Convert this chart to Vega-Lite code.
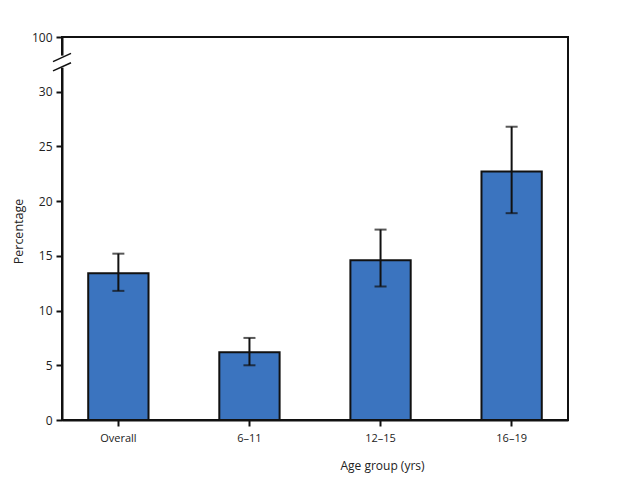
{
  "$schema": "https://vega.github.io/schema/vega-lite/v6.json",
  "width": 506,
  "height": 383,
  "autosize": "none",
  "padding": {"left": 62, "top": 37, "right": 58, "bottom": 65},
  "config": {
    "view": {"stroke": "#111", "strokeWidth": 2},
    "font": "Open Sans",
    "axis": {"labelColor": "#222", "titleColor": "#222", "domainColor": "#111", "tickColor": "#111", "labelFontWeight": "normal", "titleFontWeight": "normal"}
  },
  "datasets": {
    "bars": [
      {"group": "Overall", "pct": 13.4, "lo": 11.8, "hi": 15.2},
      {"group": "6–11", "pct": 6.2, "lo": 5.0, "hi": 7.5},
      {"group": "12–15", "pct": 14.6, "lo": 12.2, "hi": 17.4},
      {"group": "16–19", "pct": 22.7, "lo": 18.9, "hi": 26.8}
    ],
    "gap": [{"a": 32.2, "b": 33.3}],
    "brk": [{"a": 32.75, "b": 33.5}, {"a": 31.9, "b": 32.65}]
  },
  "layer": [
    {
      "data": {"name": "bars"},
      "mark": {"type": "bar", "fill": "#3b74bf", "stroke": "#111", "strokeWidth": 2},
      "encoding": {
        "x": {
          "field": "group", "type": "nominal", "sort": null,
          "scale": {"paddingInner": 0.54, "paddingOuter": 0.2},
          "axis": {"title": "Age group (yrs)", "labelAngle": 0, "labelFontSize": 11, "labelPadding": 6, "tickSize": 6, "tickWidth": 2, "domainWidth": 2, "titleFontSize": 12, "titlePadding": 17, "titleX": 320}
        },
        "y": {
          "field": "pct", "type": "quantitative",
          "scale": {"domain": [0, 35], "nice": false},
          "axis": {"title": "Percentage", "values": [0, 5, 10, 15, 20, 25, 30, 35], "labelExpr": "datum.value == 35 ? '100' : datum.label", "labelFontSize": 12, "labelPadding": 4, "tickSize": 6, "tickWidth": 2, "domainWidth": 2, "grid": false, "titleFontSize": 12.5, "titlePadding": 6, "titleY": 194}
        }
      }
    },
    {
      "data": {"name": "bars"},
      "mark": {"type": "rule", "stroke": "#111", "strokeWidth": 2},
      "encoding": {
        "x": {"field": "group", "type": "nominal", "sort": null},
        "y": {"field": "lo", "type": "quantitative"},
        "y2": {"field": "hi"}
      }
    },
    {
      "data": {"name": "bars"},
      "mark": {"type": "tick", "color": "#111", "thickness": 2, "size": 12, "orient": "horizontal"},
      "encoding": {
        "x": {"field": "group", "type": "nominal", "sort": null},
        "y": {"field": "lo", "type": "quantitative"}
      }
    },
    {
      "data": {"name": "bars"},
      "mark": {"type": "tick", "color": "#111", "thickness": 2, "size": 12, "orient": "horizontal"},
      "encoding": {
        "x": {"field": "group", "type": "nominal", "sort": null},
        "y": {"field": "hi", "type": "quantitative"}
      }
    },
    {
      "data": {"name": "gap"},
      "mark": {"type": "rule", "stroke": "white", "strokeWidth": 5},
      "encoding": {
        "x": {"value": 0},
        "y": {"field": "a", "type": "quantitative"},
        "y2": {"field": "b"}
      }
    },
    {
      "data": {"name": "brk"},
      "mark": {"type": "rule", "stroke": "#111", "strokeWidth": 1.5},
      "encoding": {
        "x": {"value": -9},
        "x2": {"value": 9},
        "y": {"field": "a", "type": "quantitative"},
        "y2": {"field": "b"}
      }
    }
  ]
}
